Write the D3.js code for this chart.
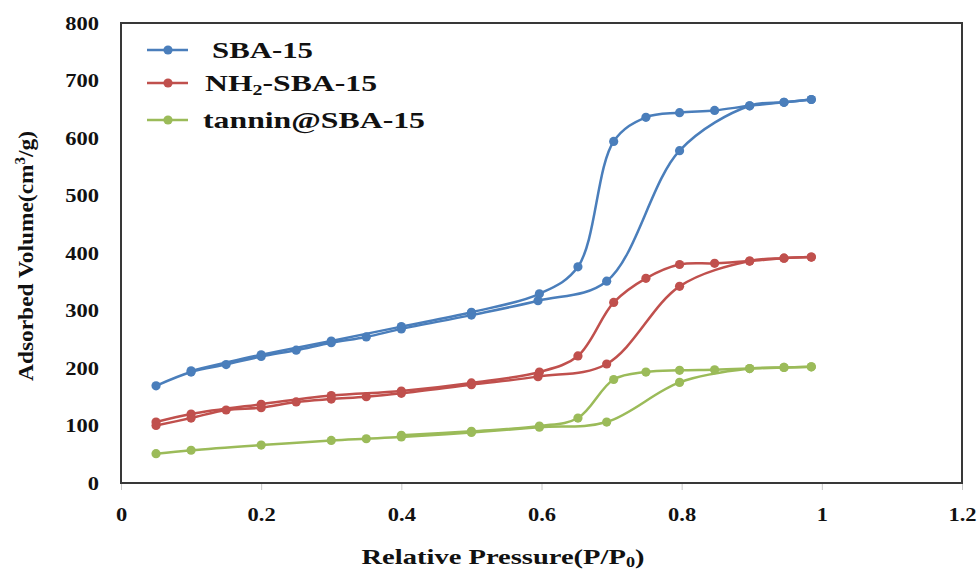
<!DOCTYPE html>
<html>
<head>
<meta charset="utf-8">
<script src="https://cdn.jsdelivr.net/npm/d3@7"></script>
<style>
  html, body { margin: 0; padding: 0; background: #fff; }
  svg text { font-family: 'Liberation Serif', 'Times New Roman', Times, serif; font-weight: 700; fill: #111; }
</style>
</head>
<body>
<svg id="chart" width="979" height="573"></svg>
<script>
// ---- Data ----
const xTicks = [0, 0.2, 0.4, 0.6, 0.8, 1, 1.2];
const yTicks = [0, 100, 200, 300, 400, 500, 600, 700, 800];

const seriesNames = ["SBA-15", "NH2-SBA-15", "tannin@SBA-15"];
const seriesColors = ["#4a7ebb", "#c0504d", "#9bbb59"];

// SBA-15
const sbaAdsX = [0.05, 0.1, 0.15, 0.2, 0.25, 0.3, 0.35, 0.4, 0.5, 0.595, 0.693, 0.797, 0.897, 0.946, 0.985];
const sbaAdsY = [169, 193, 206, 220, 231, 244, 254, 268, 292, 317, 351, 578, 656, 662, 667];
const sbaDesX = [0.985, 0.946, 0.897, 0.847, 0.797, 0.749, 0.703, 0.652, 0.597, 0.5, 0.4, 0.3, 0.2, 0.1];
const sbaDesY = [667, 662, 656, 648, 644, 636, 594, 376, 329, 297, 272, 247, 223, 195];

// NH2-SBA-15
const nhAdsX = [0.05, 0.1, 0.15, 0.2, 0.25, 0.3, 0.35, 0.4, 0.5, 0.595, 0.693, 0.797, 0.897, 0.946, 0.985];
const nhAdsY = [100, 113, 127, 131, 141, 146, 150, 156, 171, 185, 207, 342, 386, 391, 393];
const nhDesX = [0.985, 0.946, 0.897, 0.847, 0.797, 0.749, 0.703, 0.652, 0.597, 0.5, 0.4, 0.3, 0.2, 0.1, 0.05];
const nhDesY = [393, 391, 386, 382, 380, 356, 314, 221, 193, 174, 160, 152, 137, 120, 106];

// tannin@SBA-15
const tanAdsX = [0.05, 0.1, 0.2, 0.3, 0.35, 0.4, 0.5, 0.597, 0.693, 0.797, 0.897, 0.946, 0.985];
const tanAdsY = [51, 57, 66, 74, 77, 80, 88, 97, 106, 175, 199, 201, 202];
const tanDesX = [0.985, 0.946, 0.897, 0.847, 0.797, 0.749, 0.703, 0.652, 0.597, 0.5, 0.4];
const tanDesY = [202, 201, 199, 197, 196, 193, 180, 113, 99, 90, 83];

const branches = [
  { s: 0, xs: sbaAdsX, ys: sbaAdsY }, { s: 0, xs: sbaDesX, ys: sbaDesY },
  { s: 1, xs: nhAdsX, ys: nhAdsY },   { s: 1, xs: nhDesX, ys: nhDesY },
  { s: 2, xs: tanAdsX, ys: tanAdsY }, { s: 2, xs: tanDesX, ys: tanDesY }
];

// ---- Layout ----
const svg = d3.select("#chart");
const FONT = "Liberation Serif";
const L = 121, R = 962, T = 23, B = 483;
const x = d3.scaleLinear().domain([0, 1.2]).range([L, R]);
const y = d3.scaleLinear().domain([0, 800]).range([B, T]);

function stretch(sel, k) {
  sel.each(function () {
    const len = this.getComputedTextLength();
    d3.select(this).attr("textLength", len * k).attr("lengthAdjust", "spacingAndGlyphs");
  });
}

// x axis ticks + labels
const xAxis = svg.append("g").attr("transform", `translate(0,${B})`)
  .call(d3.axisBottom(x).tickValues(xTicks).tickSize(7).tickFormat(d3.format("")));
xAxis.attr("font-family", FONT).attr("font-size", 18);
xAxis.select(".domain").remove();
xAxis.selectAll(".tick line").attr("stroke", "#c8c8c8").attr("stroke-width", 1);
xAxis.selectAll(".tick text").attr("y", 38).attr("dy", 0).call(stretch, 1.25);

// y axis labels
const yAxis = svg.append("g").attr("transform", `translate(${L},0)`)
  .call(d3.axisLeft(y).tickValues(yTicks).tickSize(0).tickPadding(22));
yAxis.attr("font-family", FONT).attr("font-size", 18);
yAxis.select(".domain").remove();
yAxis.selectAll(".tick text").attr("dy", "0.36em").call(stretch, 1.25);

// frame
svg.append("rect").attr("x", L).attr("y", T).attr("width", R - L).attr("height", B - T)
  .attr("fill", "none").attr("stroke", "#383838").attr("stroke-width", 2);

// curves
const line = d3.line().x(d => x(d[0])).y(d => y(d[1])).curve(d3.curveCatmullRom.alpha(0.5));
const gData = svg.append("g");
branches.forEach(b => {
  const pts = b.xs.map((v, i) => [v, b.ys[i]]);
  gData.append("path").attr("d", line(pts)).attr("fill", "none")
    .attr("stroke", seriesColors[b.s]).attr("stroke-width", 2.5);
});
branches.forEach(b => {
  const pts = b.xs.map((v, i) => [v, b.ys[i]]);
  gData.selectAll(null).data(pts).enter().append("circle")
    .attr("cx", d => x(d[0])).attr("cy", d => y(d[1])).attr("r", 4.6)
    .attr("fill", seriesColors[b.s]);
});

// legend
const legY = [50, 83, 120];
const legTextX = [212, 205, 203];
const legW = [101, 172, 222];
seriesNames.forEach((name, i) => {
  const g = svg.append("g");
  g.append("line").attr("x1", 147).attr("x2", 188).attr("y1", legY[i]).attr("y2", legY[i])
    .attr("stroke", seriesColors[i]).attr("stroke-width", 2.5);
  g.append("circle").attr("cx", 168).attr("cy", legY[i]).attr("r", 4.6).attr("fill", seriesColors[i]);
  const t = g.append("text").attr("x", legTextX[i]).attr("y", legY[i] + 8)
    .attr("font-family", FONT).attr("font-size", 24);
  if (name === "NH2-SBA-15") {
    t.append("tspan").text("NH");
    t.append("tspan").text("2").attr("font-size", 15).attr("dy", 4);
    t.append("tspan").text("-SBA-15").attr("dy", -4);
  } else {
    t.text(name);
  }
  t.attr("textLength", legW[i]).attr("lengthAdjust", "spacingAndGlyphs");
});

// axis titles
const xt = svg.append("text").attr("x", 503).attr("y", 564).attr("text-anchor", "middle")
  .attr("font-family", FONT).attr("font-size", 22);
xt.append("tspan").text("Relative Pressure(P/P");
xt.append("tspan").text("0").attr("font-size", 14).attr("dy", 3);
xt.append("tspan").text(")").attr("dy", -3);
xt.attr("textLength", 283).attr("lengthAdjust", "spacingAndGlyphs");

const yt = svg.append("text").attr("transform", "translate(33,256) rotate(-90)")
  .attr("text-anchor", "middle").attr("font-family", FONT).attr("font-size", 22);
yt.append("tspan").text("Adsorbed Volume(cm");
yt.append("tspan").text("3").attr("font-size", 14).attr("dy", -8);
yt.append("tspan").text("/g)").attr("dy", 8);
yt.attr("textLength", 250).attr("lengthAdjust", "spacingAndGlyphs");
</script>
</body>
</html>
